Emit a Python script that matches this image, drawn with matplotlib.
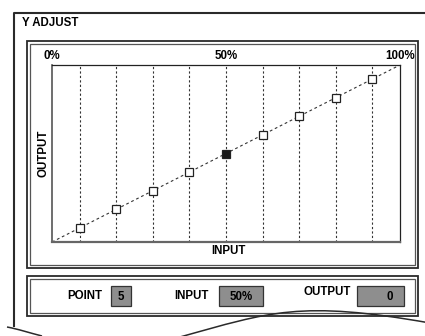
import matplotlib
matplotlib.use("Agg")
import matplotlib.pyplot as plt
from matplotlib.patches import Rectangle, PathPatch
from matplotlib.path import Path

plt.rcParams['font.family'] = ['Liberation Sans', 'DejaVu Sans']

# adjustment points (input % -> output %)
point_input = [8, 18.5, 29, 39.5, 50, 60.5, 71, 81.5, 92]
point_output = [8, 18.5, 29, 39.5, 50, 60.5, 71, 81.5, 92]
selected = 5  # 1-based point number
top_ticks = [0, 50, 100]
top_labels = ["0%", "50%", "100%"]
status_names = ["POINT", "INPUT", "OUTPUT"]
status_values = ["5", "50%", "0"]

W, H = 425, 336
fig = plt.figure(figsize=(W / 100, H / 100), dpi=100)
bg = fig.add_axes([0, 0, 1, 1])
bg.set_xlim(0, W)
bg.set_ylim(H, 0)
bg.axis("off")

dark = "#2a2a2a"
fs = 8.3

# outer screen frame
bg.plot([14.5, 14.5, 440], [327, 12.5, 12.5], color=dark, lw=1.5, solid_capstyle="butt")
bg.text(22, 23.5, "Y ADJUST", fontsize=fs, fontweight="bold", va="center", ha="left")


def double_box(x0, y0, x1, y1):
    bg.add_patch(Rectangle((x0, y0), x1 - x0, y1 - y0, fill=False, ec=dark, lw=1.3))
    bg.add_patch(Rectangle((x0 + 3, y0 + 3), x1 - x0 - 6, y1 - y0 - 6, fill=False, ec="#555555", lw=0.9))


double_box(27.5, 41, 418.5, 267.5)
double_box(27.5, 276, 418.5, 315.5)

# torn paper edges
left_tear = Path([(7, 327), (18, 329), (30, 333), (42, 336)],
                 [Path.MOVETO, Path.CURVE4, Path.CURVE4, Path.CURVE4])
right_tear = Path([(180, 337), (270, 312), (300, 300), (430, 323)],
                  [Path.MOVETO, Path.CURVE4, Path.CURVE4, Path.CURVE4])
bg.add_patch(PathPatch(left_tear, fill=False, ec=dark, lw=1.1))
bg.add_patch(PathPatch(right_tear, fill=False, ec=dark, lw=1.1))

# status bar
name_x = [85, 191, 327]
name_y = [296, 296, 292]
box_x = [(111, 131), (219, 263), (357, 404)]
for name, val, nx, ny, (bx0, bx1) in zip(status_names, status_values, name_x, name_y, box_x):
    bg.text(nx, ny, name, fontsize=fs, fontweight="bold", ha="center", va="center")
    bg.add_patch(Rectangle((bx0, 286), bx1 - bx0, 20, fc="#8e8e8e", ec="#333333", lw=0.9))
    if val == "0":
        bg.text(bx1 - 11, 297, val, fontsize=fs, fontweight="bold", ha="right", va="center")
    else:
        bg.text((bx0 + bx1) / 2, 297, val, fontsize=fs, fontweight="bold", ha="center", va="center")

# curve plot
ax = fig.add_axes([52 / W, (H - 242) / H, 348 / W, 177 / H])
ax.set_xlim(0, 100)
ax.set_ylim(0, 100)
for x in point_input:
    ax.axvline(x, color="#333333", lw=0.8, ls=(0, (2, 2)))
ax.plot([0, 100], [0, 100], color="#333333", lw=0.8, ls=(0, (2.5, 2.5)))
for i, (x, y) in enumerate(zip(point_input, point_output), start=1):
    fc = "#1a1a1a" if i == selected else "white"
    ax.plot(x, y, marker="s", ms=6.2, mfc=fc, mec="#222222", mew=0.9, zorder=5)

ax.set_xticks([])
ax.set_yticks([])
for s in ax.spines.values():
    s.set_color("#222222")
    s.set_linewidth(0.9)
ax.spines["bottom"].set_color("#666666")
ax.spines["bottom"].set_linewidth(1.6)
ax.spines["left"].set_color("#555555")
ax.spines["left"].set_linewidth(1.2)

for t, lab in zip(top_ticks, top_labels):
    ax.annotate(lab, (t, 100), xytext=(0, 2.5), textcoords="offset points",
                ha="center", va="bottom", fontsize=fs, fontweight="bold")
bg.text(228, 250.5, "INPUT", fontsize=fs, fontweight="bold", ha="center", va="center")
bg.text(44, 153, "OUTPUT", fontsize=fs, fontweight="bold", ha="center", va="center", rotation=90)

fig.savefig("out.png", dpi=100)
